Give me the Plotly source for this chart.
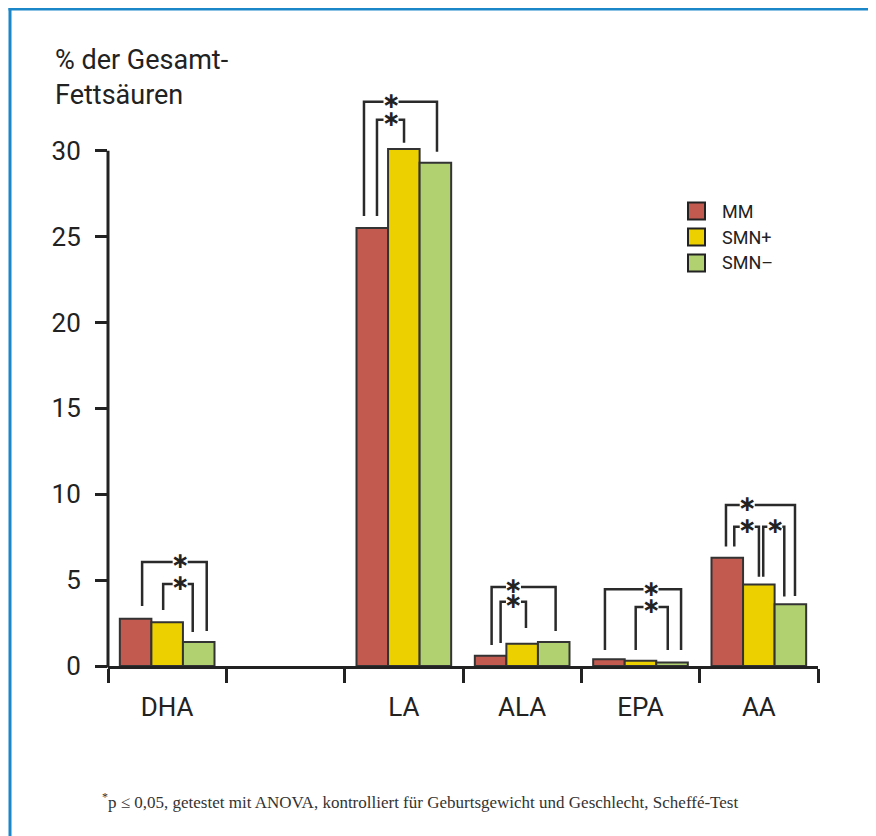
import plotly.graph_objects as go

# ---------------- data ----------------
categories = ["DHA", " ", "LA", "ALA", "EPA", "AA"]
series_names = ["MM", "SMN+", "SMN\u2013"]
mm = [2.75, None, 25.5, 0.6, 0.4, 6.3]
smn_plus = [2.55, None, 30.1, 1.3, 0.3, 4.75]
smn_minus = [1.4, None, 29.3, 1.4, 0.2, 3.6]
y_ticks = [0, 5, 10, 15, 20, 25, 30]
footnote = "<sup>*</sup>p \u2264 0,05, getestet mit ANOVA, kontrolliert f\u00fcr Geburtsgewicht und Geschlecht, Scheff\u00e9-Test"
y_title = "% der Gesamt-<br>Fetts\u00e4uren"

# significance brackets: (group, left bar, right bar, top level, left bottom, right bottom)
brackets = [
    (0, 0, 2, 6.06, 3.50, 2.04),
    (0, 1, 2, 4.78, 3.26, 1.98),
    (2, 0, 2, 32.85, 26.2, 29.94),
    (2, 0, 1, 31.8, 26.2, 30.46),
    (3, 0, 2, 4.6, 1.22, 2.04),
    (3, 0, 1, 3.74, 1.34, 2.21),
    (4, 0, 2, 4.47, 0.93, 0.93),
    (4, 1, 2, 3.44, 0.93, 0.93),
    (5, 0, 2, 9.38, 6.95, 4.08),
    (5, 0, 1, 8.11, 6.95, 5.2),
    (5, 1, 2, 8.11, 5.2, 4.05),
]
# pixel offsets of bracket legs / asterisk from bar / group centre (style)
bracket_offsets = [
    (6.5, 8, 13), (-4, -6, 13),
    (-8.3, 1.6, -12.8), (4.7, 0.2, -12.8),
    (1, 1.9, -8.7), (10, 3.8, -8.7),
    (-4, 9, 10.5), (-4.8, -4.3, 10.5),
    (-1.3, 4.6, -11.6), (7, 0.1, -11.6), (4.4, -6.1, 16),
]

# ---------------- layout constants ----------------
OFF = 8                      # page body margin
W, H = 876 - OFF, 836 - OFF  # figure size
L = 108 - OFF
R = W - (818 - OFF)
B = H - (666 - OFF)
YMAX = 34
T = round((666 - OFF) - YMAX * 515 / 30)
PW, PH = W - L - R, H - T - B
SLOT = PW / len(categories)
BW = 0.8 / 3

colors = ["#c25a50", "#ecd000", "#b1d070"]
ink = "#222222"
FONT = "Roboto"


def px2x(p):  # page pixel -> paper x
    return (p - OFF - L) / PW


def py2y(p):  # page pixel -> paper y
    return (H - B - (p - OFF)) / PH


xpos = list(range(len(categories)))

fig = go.Figure()
for name, vals, c in zip(series_names, [mm, smn_plus, smn_minus], colors):
    fig.add_trace(go.Bar(x=xpos, y=vals, name=name,
                         marker=dict(color=c, line=dict(color="#333333", width=2)),
                         showlegend=False))

shapes = []
annotations = []

# frame
shapes.append(dict(type="line", xref="paper", yref="paper", x0=px2x(8.5), x1=px2x(880), y0=py2y(9), y1=py2y(9),
                   line=dict(color="#1b87c9", width=3)))
shapes.append(dict(type="line", xref="paper", yref="paper", x0=px2x(10), x1=px2x(10), y0=py2y(7.5), y1=py2y(840),
                   line=dict(color="#1b87c9", width=3)))
# y axis line (0..30)
shapes.append(dict(type="line", xref="paper", yref="paper", x0=0, x1=0, y0=py2y(667.5), y1=y_ticks[-1] / YMAX,
                   line=dict(color=ink, width=3)))

# brackets
gap = 7.5 / SLOT
for (g, i, j, top, lb, rb), (dl, dr, ds) in zip(brackets, bracket_offsets):
    xl = g + (i - 1) * BW + dl / SLOT
    xr = g + (j - 1) * BW + dr / SLOT
    xs = g + ds / SLOT
    path = (f"M {xl},{lb} L {xl},{top} L {xs - gap},{top} "
            f"M {xs + gap},{top} L {xr},{top} L {xr},{rb}")
    shapes.append(dict(type="path", xref="x", yref="y", path=path, line=dict(color="#2a2a2a", width=2.5)))
    annotations.append(dict(x=xs, y=top, xref="x", yref="y", text="\u2217", showarrow=False,
                            font=dict(family="DejaVu Sans", size=22, color=ink, weight="bold"),
                            xanchor="center", yanchor="middle", yshift=1))

# legend (manual)
for k, (name, c) in enumerate(zip(series_names, colors)):
    cy = 211 + 26 * k
    shapes.append(dict(type="rect", xref="paper", yref="paper", x0=px2x(688), x1=px2x(705),
                       y0=py2y(cy + 8.5), y1=py2y(cy - 8.5), fillcolor=c, line=dict(color="#222", width=2)))
    annotations.append(dict(x=px2x(720), y=py2y(cy), xref="paper", yref="paper", text=name, showarrow=False,
                            xanchor="left", yanchor="middle", font=dict(family=FONT, size=18, color=ink)))

# y title
annotations.append(dict(x=px2x(53), y=py2y(42), xref="paper", yref="paper", text=y_title, showarrow=False,
                        xanchor="left", yanchor="top", align="left",
                        font=dict(family=FONT, size=27, color=ink)))
# footnote
annotations.append(dict(x=px2x(100), y=py2y(801), xref="paper", yref="paper", text=footnote, showarrow=False,
                        xanchor="left", yanchor="middle",
                        font=dict(family="Liberation Serif", size=17, color="#333333")))

fig.update_layout(
    width=W, height=H,
    margin=dict(l=L, r=R, t=T, b=B, pad=0),
    paper_bgcolor="white", plot_bgcolor="white",
    barmode="group", bargap=0.2, bargroupgap=0,
    shapes=shapes, annotations=annotations,
    xaxis=dict(range=[-0.5, len(categories) - 0.5], tickvals=xpos, ticktext=categories, ticks="",
               showline=True, linecolor=ink, linewidth=3, showgrid=False, zeroline=False,
               tickfont=dict(family=FONT, size=26, color=ink), ticklabelstandoff=16,
               minor=dict(tickvals=[v - 0.5 for v in xpos] + [xpos[-1] + 0.5], ticks="outside", ticklen=14,
                          tickwidth=3, tickcolor=ink, showgrid=False)),
    yaxis=dict(range=[0, YMAX], tickvals=y_ticks, ticks="outside", ticklen=12, tickwidth=3, tickcolor=ink,
               showline=False, showgrid=False, zeroline=False, ticklabelstandoff=9,
               tickfont=dict(family=FONT, size=26, color=ink)),
)

fig.write_html("out.html")
